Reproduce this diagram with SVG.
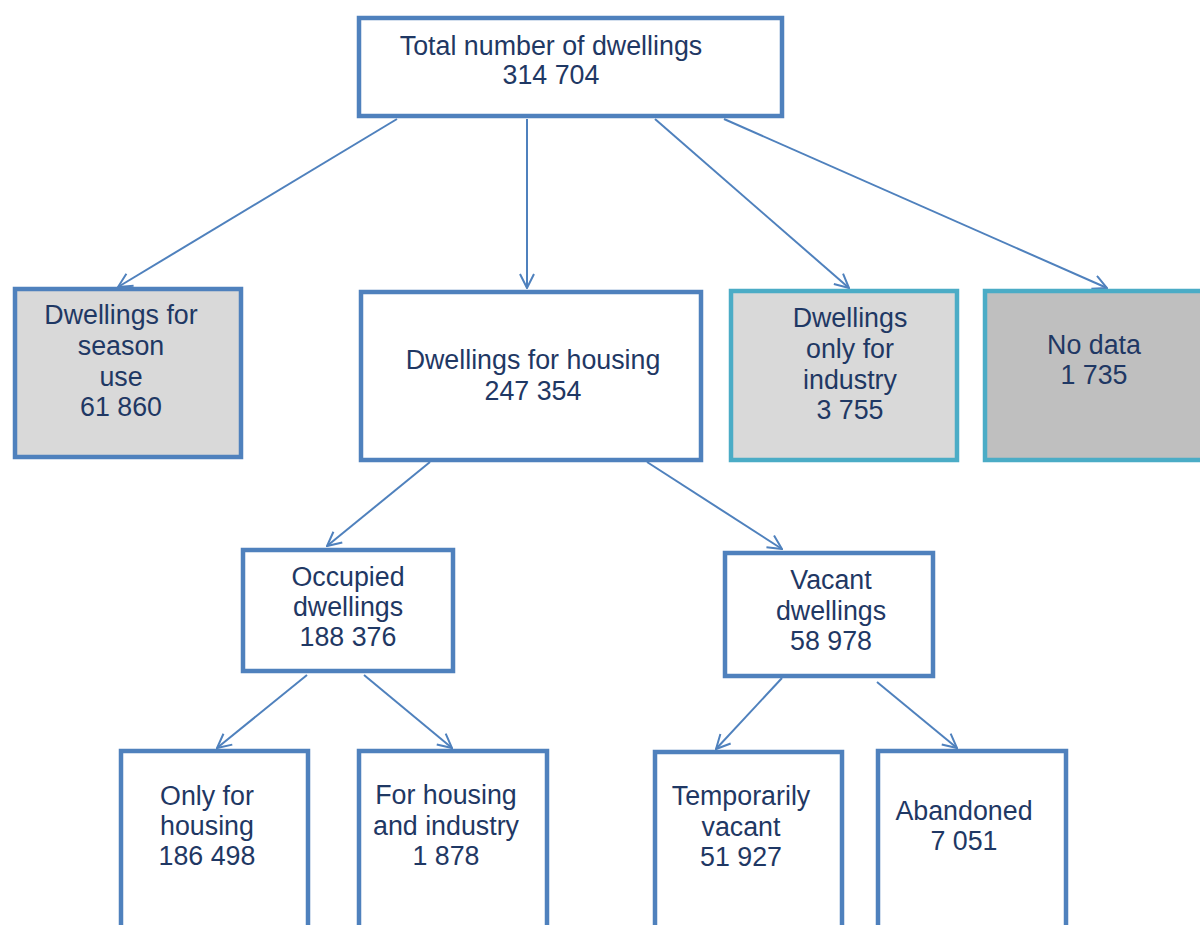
<svg xmlns="http://www.w3.org/2000/svg" width="1200" height="925" viewBox="0 0 1200 925">
<style>
.box{fill:#ffffff;stroke:#4F81BD;stroke-width:4.5}
.grey{fill:#D9D9D9}
.dark{fill:#BFBFBF}
.teal{stroke:#4BACC6}
text{font-family:"Liberation Sans",Arial,sans-serif;font-size:26.8px;fill:#1F3864;text-anchor:middle}
.conn line{stroke:#4F81BD;stroke-width:2;marker-end:url(#arr)}
</style>
<defs>
<marker id="arr" markerUnits="userSpaceOnUse" viewBox="0 0 16 16" refX="15" refY="8" markerWidth="16" markerHeight="16" orient="auto">
<path d="M1,1 L15,8 L1,15" fill="none" stroke="#4F81BD" stroke-width="2"/>
</marker>
</defs>
<g id="connectors" class="conn">
<line x1="397" y1="119" x2="118" y2="287"/>
<line x1="527" y1="119" x2="527" y2="288"/>
<line x1="655" y1="119" x2="849" y2="288"/>
<line x1="724" y1="119" x2="1107" y2="288"/>
<line x1="430" y1="462" x2="327" y2="546"/>
<line x1="647" y1="462" x2="782" y2="549"/>
<line x1="307" y1="675" x2="217" y2="748"/>
<line x1="364" y1="675" x2="452" y2="748"/>
<line x1="782" y1="678" x2="716" y2="749"/>
<line x1="877" y1="682" x2="957" y2="748"/>
</g>
<g id="total">
<rect class="box" x="359" y="18" width="423" height="98"/>
<text x="551" y="55">Total number of dwellings</text>
<text x="551" y="84">314 704</text>
</g>
<g id="season">
<rect class="box grey" x="15" y="289" width="226" height="168"/>
<text x="121" y="324">Dwellings for</text>
<text x="121" y="355">season</text>
<text x="121" y="386">use</text>
<text x="121" y="416">61 860</text>
</g>
<g id="housing">
<rect class="box" x="361" y="292" width="340" height="168"/>
<text x="533" y="369">Dwellings for housing</text>
<text x="533" y="400">247 354</text>
</g>
<g id="industry">
<rect class="box grey teal" x="731" y="291" width="226" height="169"/>
<text x="850" y="327">Dwellings</text>
<text x="850" y="358">only for</text>
<text x="850" y="389">industry</text>
<text x="850" y="419">3 755</text>
</g>
<g id="nodata">
<rect class="box dark teal" x="985" y="291" width="230" height="169"/>
<text x="1094" y="354">No data</text>
<text x="1094" y="384">1 735</text>
</g>
<g id="occupied">
<rect class="box" x="243" y="550" width="210" height="121"/>
<text x="348" y="586">Occupied</text>
<text x="348" y="616">dwellings</text>
<text x="348" y="646">188 376</text>
</g>
<g id="vacant">
<rect class="box" x="725" y="553" width="208" height="123"/>
<text x="831" y="589">Vacant</text>
<text x="831" y="620">dwellings</text>
<text x="831" y="650">58 978</text>
</g>
<g id="onlyhousing">
<rect class="box" x="121" y="751" width="187" height="190"/>
<text x="207" y="805">Only for</text>
<text x="207" y="835">housing</text>
<text x="207" y="865">186 498</text>
</g>
<g id="housingindustry">
<rect class="box" x="359" y="751" width="188" height="190"/>
<text x="446" y="804">For housing</text>
<text x="446" y="835">and industry</text>
<text x="446" y="865">1 878</text>
</g>
<g id="temporarily">
<rect class="box" x="655" y="752" width="187" height="190"/>
<text x="741" y="805">Temporarily</text>
<text x="741" y="836">vacant</text>
<text x="741" y="866">51 927</text>
</g>
<g id="abandoned">
<rect class="box" x="878" y="751" width="188" height="190"/>
<text x="964" y="820">Abandoned</text>
<text x="964" y="850">7 051</text>
</g>
</svg>
